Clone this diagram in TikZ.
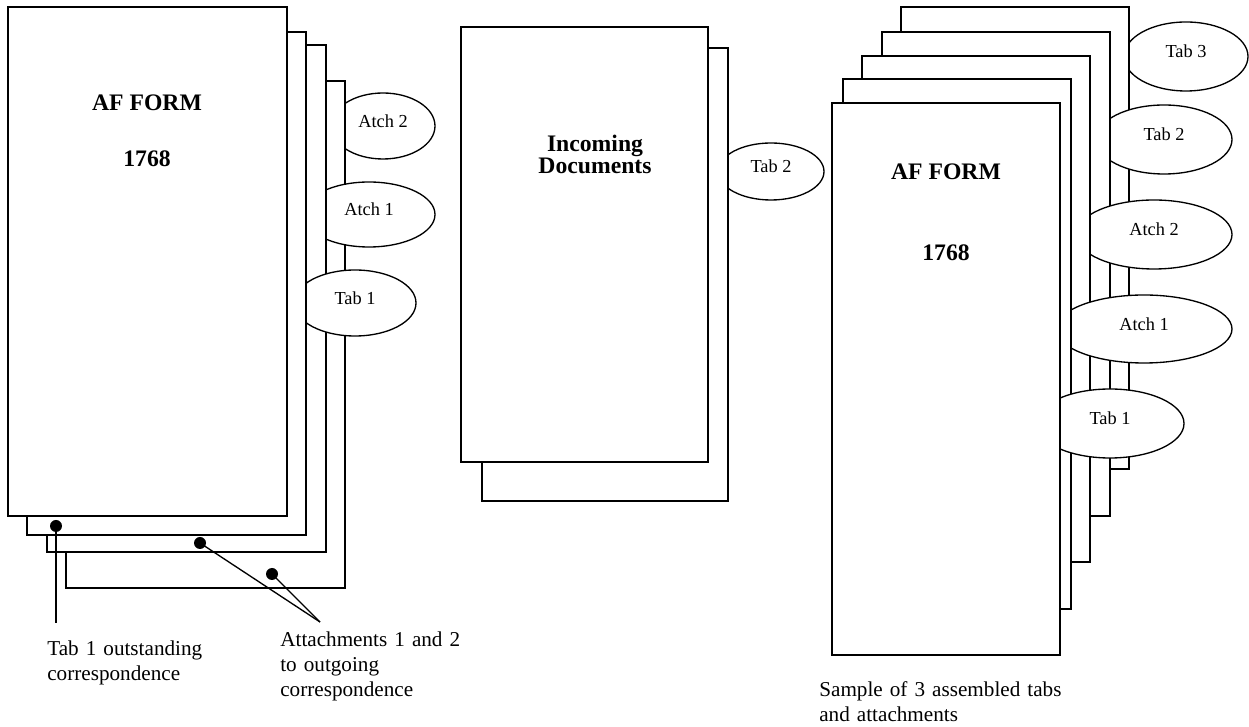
\documentclass[tikz,border=0pt]{standalone}
\usepackage{fontspec}
\setmainfont{Liberation Serif}
\usetikzlibrary{shapes.geometric}
\tikzset{
  pagebox/.style={draw, fill=white, line width=0.8pt, inner sep=0pt, outer sep=0pt, anchor=north west},
  tabell/.style={ellipse, draw, fill=white, line width=0.8pt, inner sep=0pt, outer sep=0pt,
                 font=\fontsize{11}{13}\selectfont, text depth=6pt},
  head/.style={font=\fontsize{14.2}{13}\selectfont\bfseries, anchor=base, inner sep=0pt},
  caption/.style={font=\fontsize{12.7}{15}\selectfont, anchor=base west, inner sep=0pt, text width=160pt, align=left},
  dotmark/.style={circle, fill=black, inner sep=0pt, minimum size=7.2pt},
  leader/.style={line width=0.8pt}
}
\newcommand{\mkpage}[5]{\node[pagebox, minimum width={(#4-#2)*0.6pt}, minimum height={(#5-#3)*0.6pt}] (#1) at (#2,#3) {};}
\newcommand{\mktab}[6]{\node[tabell, minimum width={2*#4*0.6pt}, minimum height={2*#5*0.6pt}] (#1) at (#2,#3) {#6};}
\begin{document}
\begin{tikzpicture}[x=0.6pt,y=-0.6pt]
\useasboundingbox (0,0) rectangle (1249,727);
% ---------- left stack ----------
\mktab{LAtchTwo}{383}{126}{52}{33}{Atch 2}
\mkpage{LP4}{66}{81}{345}{588}
\mktab{LAtchOne}{369}{214.5}{66}{32.5}{Atch 1}
\mkpage{LP3}{47}{45}{326}{552}
\mktab{LTabOne}{355}{303}{61}{33}{Tab 1}
\mkpage{LP2}{27}{32}{306}{535}
\mkpage{LP1}{8}{7}{287}{516}
\node[head] (lhA) at (147,111) {AF FORM};
\node[head] (lhB) at (147,167) {1768};
% markers and leaders
\node[dotmark] (d1) at (56,526) {};
\node[dotmark] (d2) at (200,543) {};
\node[dotmark] (d3) at (272,574) {};
\coordinate (e1) at (56,623);
\coordinate (e2) at (320,622);
\draw[leader] (d1.center) -- (e1);
\draw[leader] (d2.center) -- (e2);
\draw[leader] (d3.center) -- (e2);
\node[caption] (capA) at (47,656) {Tab 1 outstanding\\correspondence};
\node[caption] (capB) at (280,646.7) {Attachments 1 and 2\\to outgoing\\correspondence};
% ---------- middle stack ----------
\mktab{MTabTwo}{771}{171.5}{53}{28.5}{Tab 2}
\mkpage{MP2}{482}{48}{728}{501}
\mkpage{MP1}{461}{27}{708}{462}
\node[head, text width=130pt, align=center] (mh) at (595,151.7) {Incoming\\Documents};
% ---------- right stack ----------
\mktab{RTabThree}{1186}{56.5}{62}{34.5}{Tab 3}
\mkpage{RE}{901}{7}{1129}{469}
\mktab{RTabTwo}{1164}{139.5}{68}{34.5}{Tab 2}
\mkpage{RD}{882}{32}{1110}{516}
\mktab{RAtchTwo}{1154}{234.5}{78}{34.5}{Atch 2}
\mkpage{RC}{862}{56}{1090}{562}
\mktab{RAtchOne}{1144}{329}{88}{34}{Atch 1}
\mkpage{RB}{843}{79}{1071}{609}
\mktab{RTabOne}{1110}{423.5}{74}{34.5}{Tab 1}
\mkpage{RA}{832}{103}{1060}{655}
\node[head] (rhA) at (946,180) {AF FORM};
\node[head] (rhB) at (946,261) {1768};
\node[caption] (capC) at (819,696.7) {Sample of 3 assembled tabs\\and attachments};
\end{tikzpicture}
\end{document}
